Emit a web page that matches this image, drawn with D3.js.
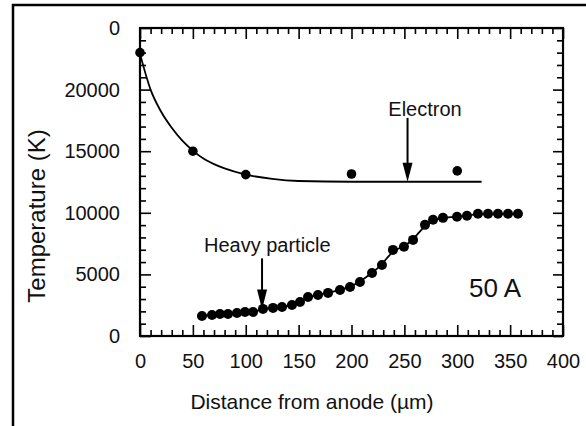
<!DOCTYPE html>
<html>
<head>
<meta charset="utf-8">
<script src="https://cdn.jsdelivr.net/npm/d3@7"></script>
<style>
  html, body { margin: 0; padding: 0; background: #fff; }
  svg { display: block; font-family: "Liberation Sans", Arial, Helvetica, sans-serif; }
</style>
</head>
<body>
<svg id="chart" width="586" height="426"></svg>
<script>
// ---- data ----
const electronX = [0, 50, 100, 200, 300];
const electronT = [23000, 15000, 13100, 13150, 13400];

const electronFitX = [0, 10, 20, 30, 40, 50, 60, 70, 80, 100, 125, 150, 200, 250, 323];
const electronFitT = [22900, 20000, 18200, 16900, 15850, 15050, 14400, 13950, 13600, 13100, 12750, 12580, 12520, 12520, 12520];

const heavyX = [58.6, 68.1, 75.6, 83.2, 91.7, 99.3, 106.9, 116.3, 125.8, 134.3, 143.7, 151.3, 158.9, 168.3, 177.8, 189.1, 198.6, 208, 219.4, 228.8, 239.2, 249.6, 258.2, 269.5, 277.1, 286.5, 299.8, 309.2, 319.6, 329.1, 338.5, 348, 357.4];
const heavyT = [1630, 1710, 1790, 1790, 1870, 1950, 1950, 2200, 2280, 2360, 2520, 2760, 3170, 3330, 3500, 3740, 3980, 4390, 5120, 5770, 6990, 7240, 7800, 9020, 9430, 9590, 9680, 9760, 9920, 9920, 9920, 9920, 9920];

const xTicks = [0, 50, 100, 150, 200, 250, 300, 350, 400];
const xTickLabels = ["0", "50", "100", "150", "200", "250", "300", "350", "400"];
const yTicks = [0, 5000, 10000, 15000, 20000, 25000];
const yTickLabels = ["0", "5000", "10000", "15000", "20000", "0"];

const xTitle = "Distance from anode (\u00b5m)";
const yTitle = "Temperature (K)";
const electronLabel = "Electron";
const heavyLabel = "Heavy particle";
const currentLabel = "50 A";

// ---- drawing ----
const svg = d3.select("#chart");
const x = d3.scaleLinear().domain([0, 400]).range([140, 563]);
const y = d3.scaleLinear().domain([0, 25000]).range([336, 28]);

// outer frame (top and left edges)
svg.append("line").attr("x1", 12).attr("x2", 586).attr("y1", 5).attr("y2", 5).attr("stroke", "#000").attr("stroke-width", 2.5);
svg.append("line").attr("x1", 13).attr("x2", 13).attr("y1", 4).attr("y2", 426).attr("stroke", "#000").attr("stroke-width", 2.5);

const xMinor = d3.range(0, 401, 10).filter(v => v % 50 !== 0);
const yMinor = d3.range(0, 25001, 1000).filter(v => v % 5000 !== 0);

function styleAxis(g) {
  g.select(".domain").remove();
  g.selectAll(".tick line").attr("stroke", "#000").attr("stroke-width", 1.6);
  g.selectAll(".tick text").attr("fill", "#111").attr("font-size", 20).attr("font-family", "Liberation Sans, Arial, sans-serif");
}

// bottom axis
svg.append("g").attr("transform", `translate(0,${y(0)})`)
  .call(d3.axisBottom(x).tickValues(xTicks).tickSizeInner(-11).tickSizeOuter(0).tickPadding(18)
    .tickFormat((d, i) => xTickLabels[i]))
  .call(styleAxis);
svg.append("g").attr("transform", `translate(0,${y(0)})`)
  .call(d3.axisBottom(x).tickValues(xMinor).tickSize(-6).tickFormat(""))
  .call(styleAxis);
// top axis
svg.append("g").attr("transform", `translate(0,${y(25000)})`)
  .call(d3.axisTop(x).tickValues(xTicks).tickSize(-11).tickFormat(""))
  .call(styleAxis);
svg.append("g").attr("transform", `translate(0,${y(25000)})`)
  .call(d3.axisTop(x).tickValues(xMinor).tickSize(-6).tickFormat(""))
  .call(styleAxis);
// left axis
svg.append("g").attr("transform", `translate(${x(0)},0)`)
  .call(d3.axisLeft(y).tickValues(yTicks).tickSizeInner(-11).tickSizeOuter(0).tickPadding(20)
    .tickFormat((d, i) => yTickLabels[i]))
  .call(styleAxis);
svg.append("g").attr("transform", `translate(${x(0)},0)`)
  .call(d3.axisLeft(y).tickValues(yMinor).tickSize(-6).tickFormat(""))
  .call(styleAxis);
// right axis
svg.append("g").attr("transform", `translate(${x(400)},0)`)
  .call(d3.axisRight(y).tickValues(yTicks).tickSize(-10).tickFormat(""))
  .call(styleAxis);
svg.append("g").attr("transform", `translate(${x(400)},0)`)
  .call(d3.axisRight(y).tickValues(yMinor).tickSize(-6).tickFormat(""))
  .call(styleAxis);

// plot box
svg.append("rect").attr("x", x(0)).attr("y", y(25000))
  .attr("width", x(400) - x(0)).attr("height", y(0) - y(25000))
  .attr("fill", "none").attr("stroke", "#000").attr("stroke-width", 2.2);

// electron fit curve
const eFit = electronFitX.map((v, i) => [v, electronFitT[i]]);
svg.append("path").datum(eFit)
  .attr("d", d3.line().x(d => x(d[0])).y(d => y(d[1])).curve(d3.curveMonotoneX))
  .attr("fill", "none").attr("stroke", "#000").attr("stroke-width", 1.8);

// heavy-particle curve
const hData = heavyX.map((v, i) => [v, heavyT[i]]);
svg.append("path").datum(hData)
  .attr("d", d3.line().x(d => x(d[0])).y(d => y(d[1])).curve(d3.curveBasis))
  .attr("fill", "none").attr("stroke", "#000").attr("stroke-width", 1.8);

// markers
svg.append("g").selectAll("circle").data(electronX.map((v, i) => [v, electronT[i]]))
  .join("circle").attr("cx", d => x(d[0])).attr("cy", d => y(d[1])).attr("r", 4.8).attr("fill", "#000");
svg.append("g").selectAll("circle").data(hData)
  .join("circle").attr("cx", d => x(d[0])).attr("cy", d => y(d[1])).attr("r", 5).attr("fill", "#000");

// arrows
function arrow(xv, yTop, yTip, headLen, headW) {
  const px = x(xv), p1 = y(yTop), p2 = y(yTip);
  svg.append("line").attr("x1", px).attr("x2", px).attr("y1", p1).attr("y2", p2 - headLen + 2)
    .attr("stroke", "#000").attr("stroke-width", 2);
  svg.append("path")
    .attr("d", `M${px - headW / 2},${p2 - headLen} L${px + headW / 2},${p2 - headLen} L${px},${p2} Z`)
    .attr("fill", "#000");
}
arrow(253, 17700, 12520, 19, 10);
arrow(115.4, 6300, 2150, 20, 10);

// annotation labels
svg.append("text").attr("x", x(269.5)).attr("y", y(17850)).attr("text-anchor", "middle")
  .attr("font-size", 20).attr("fill", "#111").text(electronLabel);
svg.append("text").attr("x", x(60.5)).attr("y", y(6800)).attr("text-anchor", "start")
  .attr("font-size", 20).attr("fill", "#111").text(heavyLabel);
svg.append("text").attr("x", x(335.7)).attr("y", y(3150)).attr("text-anchor", "middle")
  .attr("font-size", 26).attr("fill", "#111").text(currentLabel);

// axis titles
svg.append("text").attr("x", 312).attr("y", 409).attr("text-anchor", "middle")
  .attr("font-size", 21).attr("fill", "#111").text(xTitle);
svg.append("text").attr("transform", "translate(45,216) rotate(-90)").attr("text-anchor", "middle")
  .attr("font-size", 24).attr("fill", "#111").text(yTitle);
</script>
</body>
</html>
